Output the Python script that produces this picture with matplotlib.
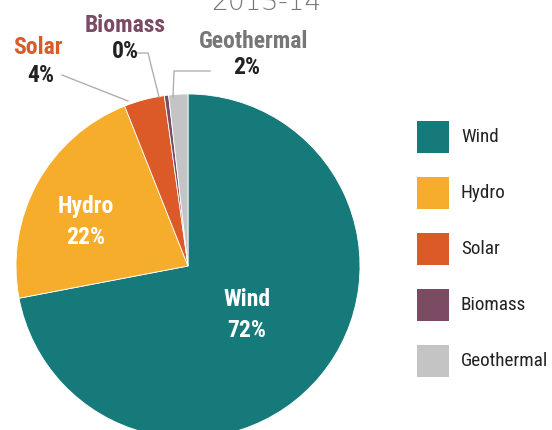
import matplotlib
matplotlib.use('Agg')
import matplotlib.pyplot as plt
from matplotlib import font_manager

sources = ['Wind', 'Hydro', 'Solar', 'Biomass', 'Geothermal']
shares = [72.0, 22.0, 3.8, 0.4, 1.8]
pct_labels = ['72%', '22%', '4%', '0%', '2%']
colors = ['#167a7b', '#f6ad2b', '#db5a27', '#7a4b63', '#c4c4c4']

# pick a narrow face if one is installed
names = {f.name for f in font_manager.fontManager.ttflist}
narrow = next((n for n in ['Liberation Sans Narrow', 'DejaVu Sans Condensed',
                           'Roboto Condensed', 'Open Sans Condensed']
               if n in names), 'DejaVu Sans')
plt.rcParams['font.family'] = [narrow, 'DejaVu Sans']
small = narrow != 'DejaVu Sans'
lab_fs = 17 if small else 12.5
leg_fs = 13.8 if small else 10.5

W, H = 552, 430
fig = plt.figure(figsize=(W / 100, H / 100), dpi=100)

def px(x, y):
    # pixel coords (from top-left) -> figure fraction
    return x / W, 1 - y / H

# pie axes: centre (188, 266), radius 172 px
cx, cy, r = 188, 266, 172
ax = fig.add_axes([(cx - r) / W, (H - cy - r) / H, 2 * r / W, 2 * r / H])
wedges, _ = ax.pie(shares, colors=colors, startangle=90, counterclock=False,
                   wedgeprops=dict(edgecolor='white', linewidth=0.6))
ax.set_xlim(-1, 1)
ax.set_ylim(-1, 1)
ax.set_aspect('equal')
ax.axis('off')

# inside labels
fig.text(*px(247, 315), sources[0] + '\n' + pct_labels[0], color='white',
         fontsize=lab_fs, fontweight='bold', ha='center', va='center', linespacing=1.45)
fig.text(*px(86, 222), sources[1] + '\n' + pct_labels[1], color='white',
         fontsize=lab_fs, fontweight='bold', ha='center', va='center', linespacing=1.45)

# outside labels
fig.text(*px(38, 48), sources[2], color=colors[2], fontsize=lab_fs,
         fontweight='bold', ha='center', va='center')
fig.text(*px(41, 75), pct_labels[2], color='#222222', fontsize=lab_fs,
         fontweight='bold', ha='center', va='center')
fig.text(*px(125, 25), sources[3], color='#7a4b63', fontsize=lab_fs,
         fontweight='bold', ha='center', va='center')
fig.text(*px(125, 52), pct_labels[3], color='#222222', fontsize=lab_fs,
         fontweight='bold', ha='center', va='center')
fig.text(*px(254, 41), sources[4], color='#777777', fontsize=lab_fs,
         fontweight='bold', ha='center', va='center')
fig.text(*px(247, 68), pct_labels[4], color='#222222', fontsize=lab_fs,
         fontweight='bold', ha='center', va='center')

# leader lines
line_kw = dict(color='#b0b0b0', linewidth=1.0, transform=fig.transFigure)
for pts in ([(62, 75), (128, 101)],
            [(137, 53), (148, 53), (159, 97)],
            [(210, 71), (174, 71), (173, 97)]):
    xs = [p[0] / W for p in pts]
    ys = [1 - p[1] / H for p in pts]
    fig.add_artist(plt.Line2D(xs, ys, **line_kw))

# title, cut at the top edge
fig.text(*px(266, 10), '2013-14', color='#777777', fontsize=19,
         family='DejaVu Sans', fontweight='light', ha='center', va='baseline')

# legend drawn by hand: 32px squares, 56px apart
for i, (name, col) in enumerate(zip(sources, colors)):
    yc = 137 + i * 56
    x0, y0 = px(417, yc + 16)
    fig.add_artist(plt.Rectangle((x0, y0), 32 / W, 32 / H, facecolor=col,
                                 edgecolor='none', transform=fig.transFigure))
    fig.text(*px(461, yc), name, color='#222222', fontsize=leg_fs,
             ha='left', va='center')

fig.savefig('out.png', dpi=100)
